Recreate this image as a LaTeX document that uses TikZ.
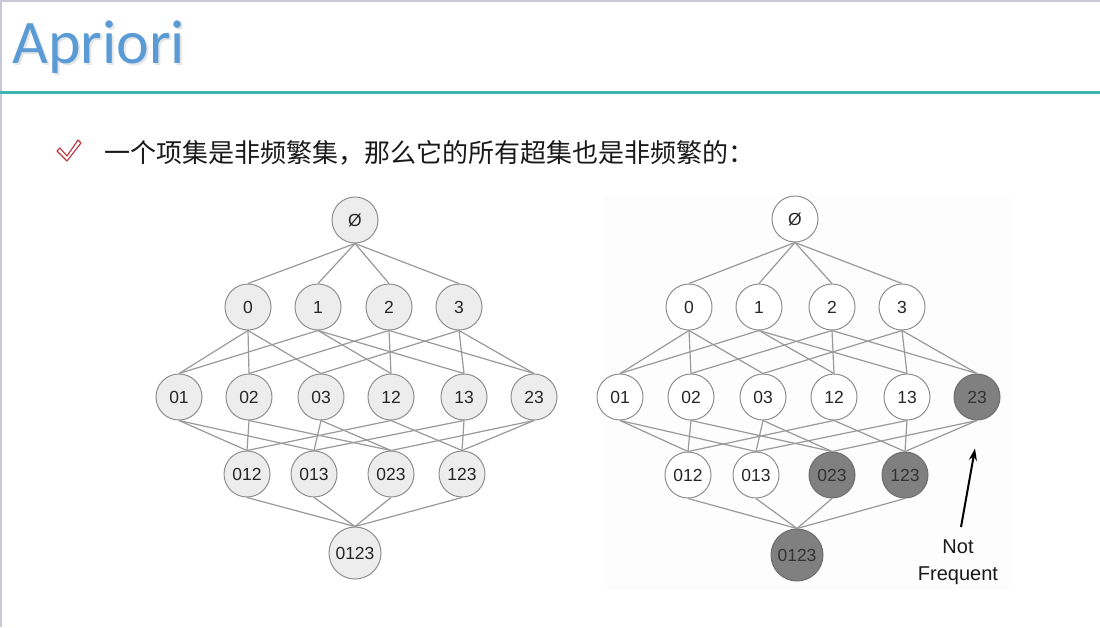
\documentclass[tikz,border=0pt]{standalone}
\usepackage{fontspec}
\setmainfont{Liberation Sans}
\newfontfamily\titlefont{Carlito}
\newfontfamily\cjkfont{Noto Sans CJK SC}
\usetikzlibrary{arrows.meta}
\definecolor{titleblue}{HTML}{5B9BD5}
\definecolor{rulecolor}{HTML}{3FB2B4}
\definecolor{framegray}{HTML}{C8C8D6}
\definecolor{checkred}{HTML}{C0343C}
\definecolor{edgegray}{HTML}{999999}
\definecolor{nodeedge}{HTML}{8E8E8E}
\definecolor{lightfill}{HTML}{EDEDED}
\definecolor{darkfill}{HTML}{808080}
\definecolor{panelgray}{HTML}{FDFDFD}
\tikzset{
  setnode/.style={circle, draw=nodeedge, line width=1pt, minimum size=46pt, inner sep=0pt,
    font=\fontsize{17.5}{20}\selectfont, text=black!85},
  bignode/.style={setnode, minimum size=52pt},
  lightnode/.style={fill=lightfill},
  whitenode/.style={fill=white},
  darknode/.style={fill=darkfill, draw=darkfill!85!black, text=black!80},
  lattice/.style={draw=edgegray, line width=1.2pt},
  pointer/.style={draw=black, line width=2pt, -{Stealth[length=12pt,width=8pt]}},
}
\begin{document}
\begin{tikzpicture}[x=1pt,y=-1pt]
  \useasboundingbox (0,0) rectangle (1100,627);
  \fill[white] (0,0) rectangle (1100,627);
  % slide frame and title rule
  \draw[framegray, line width=1.5pt] (0,0.75) -- (1100,0.75);
  \draw[framegray, line width=1.5pt] (0.75,0) -- (0.75,627);
  \fill[rulecolor] (0,91) rectangle (1100,94);
  \node[anchor=base west, inner sep=0pt, text=black!25, opacity=0.4,
        font=\titlefont\fontsize{62}{70}\selectfont] (titleshadow) at (14,65) {Apriori};
  \node[anchor=base west, inner sep=0pt, text=titleblue,
        font=\titlefont\fontsize{62}{70}\selectfont] (title) at (12,63) {Apriori};
  % bullet
  \draw[checkred, line width=1.1pt, line join=round]
    (57,151) -- (60,148) -- (67,156) -- (78,140) -- (81,143) -- (67,161) -- cycle;
  \node[anchor=west, inner sep=0pt, font=\cjkfont\fontsize{26}{30}\selectfont, text=black!90]
    (bullet) at (104,153) {一个项集是非频繁集，那么它的所有超集也是非频繁的：};

  % faint panel behind the right lattice
  \fill[panelgray] (603,195) rectangle (1012,590);

  % ---------- left lattice ----------
  \begin{scope}[every node/.append style={setnode, lightnode}]
    \node (Le)  at (355,220) {Ø};
    \node (L0)  at (248,307) {0};
    \node (L1)  at (318,307) {1};
    \node (L2)  at (389,307) {2};
    \node (L3)  at (459,307) {3};
    \node (L01) at (179,397) {01};
    \node (L02) at (249,397) {02};
    \node (L03) at (321,397) {03};
    \node (L12) at (391,397) {12};
    \node (L13) at (464,397) {13};
    \node (L23) at (534,397) {23};
    \node (L012) at (247,474) {012};
    \node (L013) at (314,474) {013};
    \node (L023) at (391,474) {023};
    \node (L123) at (462,474) {123};
    \node[bignode] (L0123) at (355,553) {0123};
  \end{scope}

  % ---------- right lattice ----------
  \begin{scope}[every node/.append style={setnode, whitenode}]
    \node (Re)  at (795,219) {Ø};
    \node (R0)  at (689,307) {0};
    \node (R1)  at (759,307) {1};
    \node (R2)  at (832,307) {2};
    \node (R3)  at (902,307) {3};
    \node (R01) at (620,397) {01};
    \node (R02) at (691,397) {02};
    \node (R03) at (763,397) {03};
    \node (R12) at (834,397) {12};
    \node (R13) at (907,397) {13};
    \node[darknode] (R23) at (977,397) {23};
    \node (R012) at (688,475) {012};
    \node (R013) at (756,475) {013};
    \node[darknode] (R023) at (832,475) {023};
    \node[darknode] (R123) at (905,475) {123};
    \node[bignode, darknode] (R0123) at (797,555) {0123};
  \end{scope}

  % lattice edges: subset (south) to superset (north)
  \foreach \p in {L,R}{
    \foreach \a/\b in {e/0,e/1,e/2,e/3,
                       0/01,0/02,0/03,1/01,1/12,1/13,2/02,2/12,2/23,3/03,3/13,3/23,
                       01/012,01/013,02/012,02/023,03/013,03/023,
                       12/012,12/123,13/013,13/123,23/023,23/123,
                       012/0123,013/0123,023/0123,123/0123}{
      \draw[lattice] (\p\a.south) -- (\p\b.north);
    }
  }

  % annotation
  \node[align=center, font=\fontsize{20}{27}\selectfont, text=black!90] (nf) at (958,562) {Not\\Frequent};
  \coordinate (nftail) at (961,527);
  \draw[pointer] (nftail) -- ([xshift=-2pt,yshift=-28pt]R23.south);
\end{tikzpicture}
\end{document}
